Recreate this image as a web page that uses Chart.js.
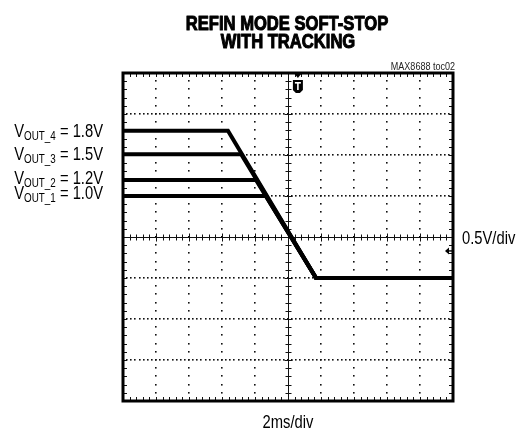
<!DOCTYPE html>
<html><head><meta charset="utf-8">
<script src="https://cdn.jsdelivr.net/npm/chart.js@4.4.0/dist/chart.umd.min.js"></script>
<style>html,body{margin:0;padding:0;background:#fff}#wrap{width:522px;height:430px;position:relative}</style>
</head><body><div id="wrap"><canvas id="c" width="522" height="430"></canvas></div>
<script>
// ---- data (in scope divisions) ----
const seriesNames = ['VOUT_1', 'VOUT_2', 'VOUT_3', 'VOUT_4'];
const seriesSub = ['OUT_1', 'OUT_2', 'OUT_3', 'OUT_4'];
const setVolts = ['1.0V', '1.2V', '1.5V', '1.8V'];
const startLevelDiv = [1.0, 1.39, 2.02, 2.59];
const kneeTimeDiv = [4.33, 4.03, 3.58, 3.18];
const rampEndTimeDiv = 5.85;
const finalLevelDiv = -1.0;
const traceStartDiv = 0;
const traceEndDiv = 10;
const xDivisions = [0, 1, 2, 3, 4, 5, 6, 7, 8, 9, 10];
const yDivisions = [-4, -3, -2, -1, 0, 1, 2, 3, 4];
const triggerTimeDiv = 5.3;
const groundLevelDiv = -0.34;
const titleLines = ['REFIN MODE SOFT-STOP', 'WITH TRACKING'];
const noteText = 'MAX8688 toc02';
const yScaleText = '0.5V/div';
const xScaleText = '2ms/div';

const datasets = seriesNames.map((n, i) => ({
  label: n,
  data: [
    {x: traceStartDiv, y: startLevelDiv[i]},
    {x: kneeTimeDiv[i], y: startLevelDiv[i]},
    {x: rampEndTimeDiv, y: finalLevelDiv},
    {x: traceEndDiv, y: finalLevelDiv}
  ],
  borderColor: '#000',
  borderWidth: 4,
  pointRadius: 0,
  tension: 0,
  fill: false
}));

const FONT = '"Liberation Sans", Arial, sans-serif';
const SX = 0.82;

function narrowText(ctx, text, x, y, font, align, sx, strokeW) {
  ctx.save();
  ctx.font = font;
  const w = ctx.measureText(text).width * sx;
  let x0 = x;
  if (align === 'center') x0 = x - w / 2;
  else if (align === 'right') x0 = x - w;
  ctx.translate(x0, y);
  ctx.scale(sx, 1);
  ctx.textAlign = 'left';
  ctx.textBaseline = 'alphabetic';
  ctx.fillText(text, 0, 0);
  if (strokeW) {
    ctx.strokeStyle = ctx.fillStyle;
    ctx.lineWidth = strokeW;
    ctx.lineJoin = 'round';
    ctx.strokeText(text, 0, 0);
  }
  ctx.restore();
  return w;
}
function textW(ctx, text, font, sx) {
  ctx.save(); ctx.font = font; const w = ctx.measureText(text).width * sx; ctx.restore(); return w;
}

const scopePlugin = {
  id: 'scope',
  beforeDatasetsDraw(chart) {
    const ctx = chart.ctx;
    const xs = chart.scales.x, ys = chart.scales.y;
    const {left, right, top, bottom} = chart.chartArea;
    const xMin = xDivisions[0], xMax = xDivisions[xDivisions.length - 1];
    const yMin = yDivisions[0], yMax = yDivisions[yDivisions.length - 1];
    ctx.save();
    ctx.fillStyle = '#111';
    xDivisions.forEach(d => {
      if (d === xMin || d === xMax || d === 5) return;
      const px = Math.round(xs.getPixelForValue(d));
      for (let k = yMin * 5; k <= yMax * 5; k++) {
        const py = Math.round(ys.getPixelForValue(k / 5));
        ctx.fillRect(px - 1, py - 1, 1.6, 1.6);
      }
    });
    yDivisions.forEach(d => {
      if (d === yMin || d === yMax || d === 0) return;
      const py = Math.round(ys.getPixelForValue(d));
      for (let k = xMin * 8; k <= xMax * 8; k++) {
        const px = Math.round(xs.getPixelForValue(k / 8));
        ctx.fillRect(px - 1, py - 1, 1.6, 1.6);
      }
    });
    ctx.strokeStyle = '#111';
    ctx.lineWidth = 1;
    const cx = Math.round(xs.getPixelForValue(5)) + 0.5;
    const cy = Math.round(ys.getPixelForValue(0)) + 0.5;
    ctx.beginPath();
    ctx.moveTo(cx, top); ctx.lineTo(cx, bottom);
    ctx.moveTo(left, cy); ctx.lineTo(right, cy);
    for (let k = yMin * 5; k <= yMax * 5; k++) {
      const py = Math.round(ys.getPixelForValue(k / 5)) + 0.5;
      const len = (k % 5 === 0) ? 4 : 3;
      ctx.moveTo(cx - len, py); ctx.lineTo(cx + len, py);
    }
    for (let k = xMin * 5; k <= xMax * 5; k++) {
      const px = Math.round(xs.getPixelForValue(k / 5)) + 0.5;
      const len = (k % 5 === 0) ? 4 : 3;
      ctx.moveTo(px, cy - len); ctx.lineTo(px, cy + len);
    }
    for (let k = xMin * 5; k <= xMax * 5; k++) {
      const px = Math.round(xs.getPixelForValue(k / 5)) + 0.5;
      ctx.moveTo(px, top); ctx.lineTo(px, top + 4);
      ctx.moveTo(px, bottom); ctx.lineTo(px, bottom - 4);
    }
    for (let k = yMin * 5; k <= yMax * 5; k++) {
      const py = Math.round(ys.getPixelForValue(k / 5)) + 0.5;
      ctx.moveTo(left, py); ctx.lineTo(left + 4, py);
      ctx.moveTo(right, py); ctx.lineTo(right - 4, py);
    }
    ctx.stroke();
    ctx.restore();
  },
  afterDraw(chart) {
    const ctx = chart.ctx;
    const xs = chart.scales.x, ys = chart.scales.y;
    const {left, right, top, bottom} = chart.chartArea;
    ctx.save();
    ctx.strokeStyle = '#000';
    ctx.lineWidth = 3;
    ctx.strokeRect(left, top, right - left, bottom - top);
    // trigger marker
    const tx = xs.getPixelForValue(triggerTimeDiv);
    ctx.fillStyle = '#000';
    ctx.beginPath();
    ctx.moveTo(tx - 4, top); ctx.lineTo(tx + 4, top); ctx.lineTo(tx, top + 5);
    ctx.closePath(); ctx.fill();
    ctx.beginPath();
    ctx.moveTo(tx - 5, top + 7); ctx.lineTo(tx + 5, top + 7);
    ctx.lineTo(tx + 5, top + 17); ctx.lineTo(tx + 2, top + 20);
    ctx.lineTo(tx - 2, top + 20); ctx.lineTo(tx - 5, top + 17);
    ctx.closePath(); ctx.fill();
    ctx.fillStyle = '#fff';
    ctx.fillRect(tx - 3, top + 9, 6, 1.6);
    ctx.fillRect(tx - 0.8, top + 9, 1.6, 8);
    // ground marker
    const gy = ys.getPixelForValue(groundLevelDiv);
    ctx.fillStyle = '#000';
    ctx.beginPath();
    ctx.moveTo(right - 8, gy); ctx.lineTo(right - 4, gy - 3.5); ctx.lineTo(right - 4, gy + 3.5);
    ctx.closePath(); ctx.fill();
    ctx.fillRect(right - 5, gy - 0.7, 4, 1.4);

    // texts
    const mid = xs.getPixelForValue(5);
    ctx.fillStyle = '#000';
    narrowText(ctx, titleLines[0], mid - 1, 30, 'bold 21px ' + FONT, 'center', 0.79, 1.1);
    narrowText(ctx, titleLines[1], mid, 48, 'bold 21px ' + FONT, 'center', 0.79, 1.1);
    ctx.fillStyle = '#222';
    narrowText(ctx, noteText, right + 2, 70, '11px ' + FONT, 'right', SX);
    ctx.fillStyle = '#000';
    narrowText(ctx, yScaleText, right + 9, ys.getPixelForValue(0) + 7, '18px ' + FONT, 'left', SX);
    narrowText(ctx, xScaleText, mid, 428, '18px ' + FONT, 'center', SX);

    const baseOffsets = [3, 4, 6, 6];
    const main = '18px ' + FONT, sub = '12px ' + FONT;
    for (let i = 0; i < seriesNames.length; i++) {
      const by = ys.getPixelForValue(startLevelDiv[i]) + baseOffsets[i];
      const tail = ' = ' + setVolts[i];
      const wV = textW(ctx, 'V', main, SX);
      const wS = textW(ctx, seriesSub[i], sub, SX);
      const wT = textW(ctx, tail, main, SX);
      const x0 = 103 - (wV + wS + wT);
      narrowText(ctx, 'V', x0, by, main, 'left', SX);
      narrowText(ctx, seriesSub[i], x0 + wV, by + 3, sub, 'left', SX);
      narrowText(ctx, tail, x0 + wV + wS, by, main, 'left', SX);
    }
    ctx.restore();
  }
};

new Chart(document.getElementById('c'), {
  type: 'line',
  data: {datasets},
  options: {
    responsive: false,
    animation: false,
    devicePixelRatio: 1,
    layout: {padding: {left: 123, right: 69, top: 73, bottom: 29}},
    scales: {
      x: {type: 'linear', min: xDivisions[0], max: xDivisions[xDivisions.length - 1], display: false},
      y: {type: 'linear', min: yDivisions[0], max: yDivisions[yDivisions.length - 1], display: false}
    },
    plugins: {legend: {display: false}, tooltip: {enabled: false}, title: {display: false}},
    elements: {line: {tension: 0}, point: {radius: 0}}
  },
  plugins: [scopePlugin]
});
</script>
</body></html>
